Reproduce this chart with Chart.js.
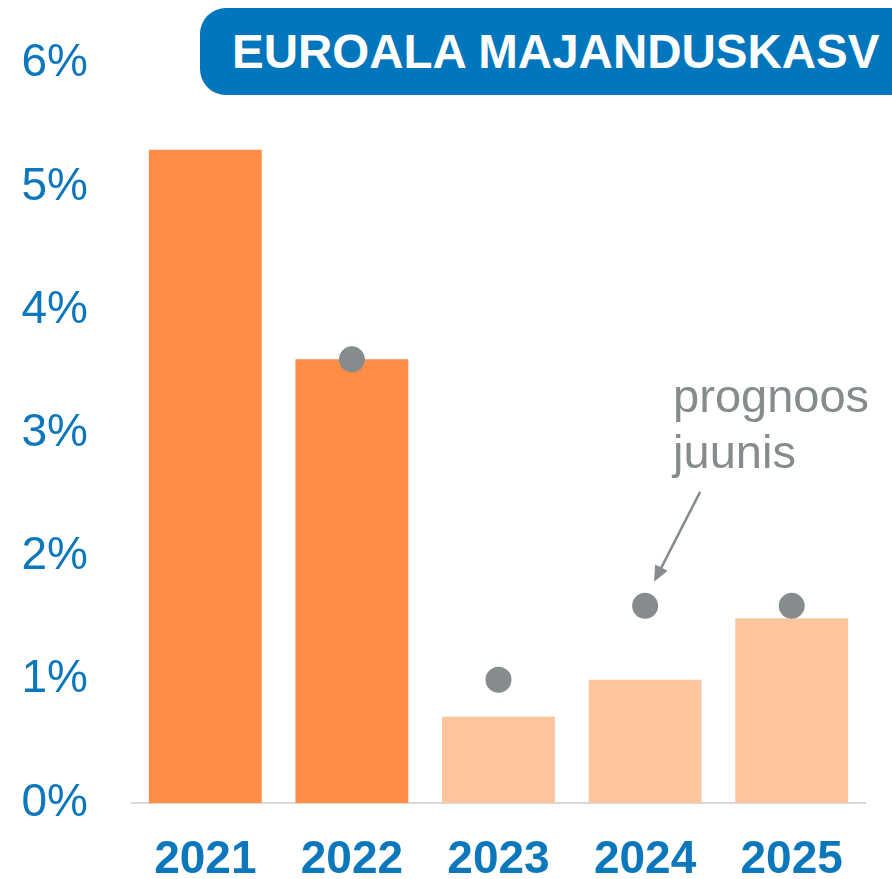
<!DOCTYPE html>
<html>
<head>
<meta charset="utf-8">
<script src="https://cdn.jsdelivr.net/npm/chart.js@4"></script>
<style>
    body { margin: 0; background: #fff; overflow: hidden; }
    #wrap { position: relative; width: 892px; height: 879px; }
    #title {
        position: absolute; left: 200px; top: 8px; width: 740px; height: 87px;
        background: #0176bc; border-radius: 26px;
        color: #fff; font: bold 47.5px "Liberation Sans", Arial, sans-serif;
        line-height: 88px; padding-left: 32px; box-sizing: border-box; white-space: nowrap;
    }
</style>
</head>
<body>
<div id="wrap">
    <canvas id="chart" width="892" height="879"></canvas>
    <div id="title">EUROALA MAJANDUSKASV</div>
</div>
<script>
// Data
const years = ['2021', '2022', '2023', '2024', '2025'];
const growth = [5.3, 3.6, 0.7, 1.0, 1.5];
const forecastJune = [null, 3.6, 1.0, 1.6, 1.6];
const yTicks = [0, 1, 2, 3, 4, 5, 6];

const blue = '#0c77bb';
const grey = '#868b8d';
const barColors = ['#ff8d45', '#ff8d45', '#fdc59e', '#fdc59e', '#fdc59e'];

// arrow + "prognoos juunis" text next to the 2024 point
const notePlugin = {
    id: 'note',
    afterDraw(chart) {
        const ctx = chart.ctx;
        const px = chart.scales.x.getPixelForValue(3);
        const py = chart.scales.y.getPixelForValue(forecastJune[3]);
        ctx.save();
        ctx.fillStyle = grey;
        ctx.strokeStyle = grey;
        ctx.font = '47px "Liberation Sans", Arial, sans-serif';
        ctx.textBaseline = 'alphabetic';
        ctx.fillText('prognoos', px + 28, py - 194);
        ctx.fillText('juunis', px + 28, py - 138);

        const x1 = px + 55, y1 = py - 114, x2 = px + 9, y2 = py - 24;
        const ang = Math.atan2(y2 - y1, x2 - x1);
        ctx.lineWidth = 2.5;
        ctx.beginPath();
        ctx.moveTo(x1, y1);
        ctx.lineTo(x2 - 12 * Math.cos(ang), y2 - 12 * Math.sin(ang));
        ctx.stroke();
        ctx.beginPath();
        ctx.moveTo(x2, y2);
        ctx.lineTo(x2 - 16 * Math.cos(ang) + 7 * Math.sin(ang), y2 - 16 * Math.sin(ang) - 7 * Math.cos(ang));
        ctx.lineTo(x2 - 16 * Math.cos(ang) - 7 * Math.sin(ang), y2 - 16 * Math.sin(ang) + 7 * Math.cos(ang));
        ctx.closePath();
        ctx.fill();
        ctx.restore();
    }
};

new Chart(document.getElementById('chart').getContext('2d'), {
    type: 'bar',
    data: {
        labels: years,
        datasets: [
            {
                type: 'line',
                label: 'Prognoos juunis',
                data: forecastJune,
                showLine: false,
                pointRadius: 13,
                pointBackgroundColor: grey,
                pointBorderWidth: 0,
                order: 0
            },
            {
                label: 'Majanduskasv',
                data: growth,
                backgroundColor: barColors,
                barPercentage: 0.77,
                categoryPercentage: 1,
                order: 1
            }
        ]
    },
    options: {
        responsive: false,
        animation: false,
        layout: { padding: { top: 57, right: 27, left: 0, bottom: 0 } },
        plugins: { legend: { display: false }, tooltip: { enabled: false } },
        scales: {
            x: {
                grid: { display: false },
                border: { display: true, color: '#d9d9d9', width: 2 },
                ticks: {
                    color: blue,
                    padding: 22,
                    font: { family: '"Liberation Sans", Arial, sans-serif', size: 46, weight: 'bold' }
                },
                afterFit(scale) { scale.height = 76; }
            },
            y: {
                min: 0,
                max: 6,
                grid: { display: false },
                border: { display: false },
                afterBuildTicks(scale) { scale.ticks = yTicks.map(v => ({ value: v })); },
                ticks: {
                    color: blue,
                    padding: 36,
                    font: { family: '"Liberation Sans", Arial, sans-serif', size: 46 },
                    callback: v => v + '%'
                },
                afterFit(scale) { scale.width = 132; }
            }
        }
    },
    plugins: [notePlugin]
});
</script>
</body>
</html>
